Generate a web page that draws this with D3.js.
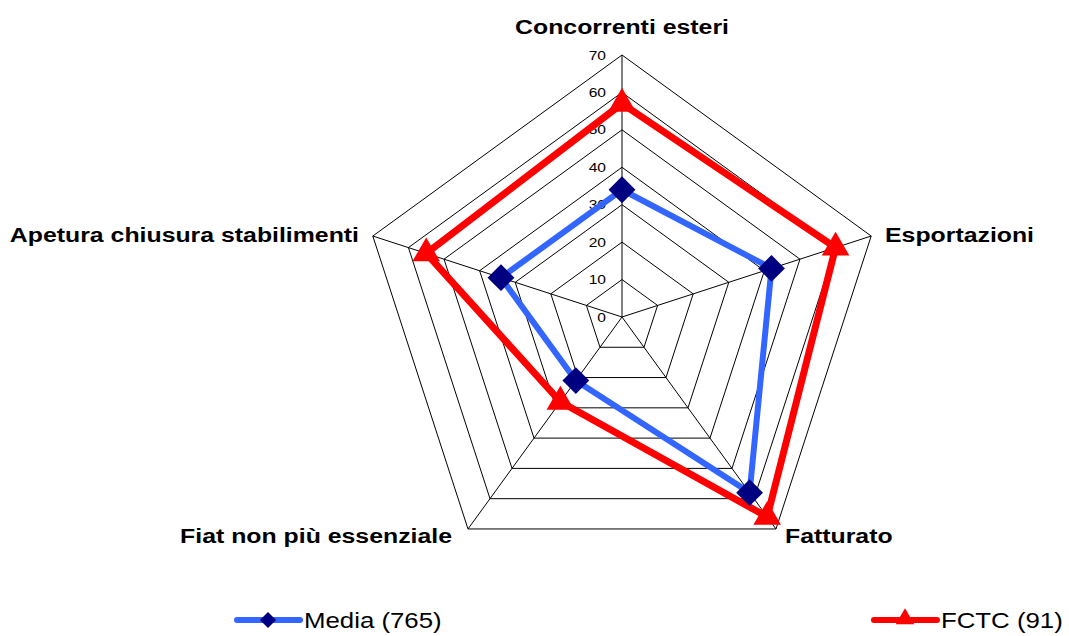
<!DOCTYPE html>
<html>
<head>
<meta charset="utf-8">
<script src="https://cdn.jsdelivr.net/npm/d3@7"></script>
<style>
  body { margin: 0; background: #fff; }
  svg { display: block; font-family: "Liberation Sans", Arial, sans-serif; }
</style>
</head>
<body>
<script>
// data
const categories = ['Concorrenti esteri', 'Esportazioni', 'Fatturato', 'Fiat non più essenziale', 'Apetura chiusura stabilimenti']
const media = [34, 42, 58, 21, 34]
const fctc = [57, 60, 66, 28, 55]
const ticks = [0, 10, 20, 30, 40, 50, 60, 70]
const seriesNames = ['Media (765)', 'FCTC (91)']

const width = 1069, height = 636
const cx = 622, cy = 317
const stretch = 'scale(1.2,1)'   // the original text is drawn a bit wide

const svg = d3.select('body').append('svg')
    .attr('width', width)
    .attr('height', height)

const r = d3.scaleLinear().domain([0, 70]).range([0, 262])
const angle = d3.scalePoint().domain(categories).range([0, 2 * Math.PI * 4 / 5])

function pt(cat, v) {
    const a = angle(cat)
    return [cx + r(v) * Math.sin(a), cy - r(v) * Math.cos(a)]
}

// ======== grid ========
const grid = svg.append('g')
grid.selectAll('polygon')
    .data(ticks.slice(1))
    .enter().append('polygon')
    .attr('points', d => categories.map(c => pt(c, d).join(',')).join(' '))
    .attr('fill', 'none')
    .attr('stroke', '#000')
    .attr('stroke-width', 1)

grid.selectAll('line')
    .data(categories)
    .enter().append('line')
    .attr('x1', cx).attr('y1', cy)
    .attr('x2', d => pt(d, 70)[0])
    .attr('y2', d => pt(d, 70)[1])
    .attr('stroke', '#000')
    .attr('stroke-width', 1)

// tick labels
svg.append('g').selectAll('text')
    .data(ticks)
    .enter().append('text')
    .attr('transform', d => 'translate(' + (cx - 16) + ',' + (cy - r(d) + 4.5) + ') ' + stretch)
    .attr('text-anchor', 'end')
    .attr('font-size', 13)
    .attr('fill', '#000')
    .text(d => d)

// ======== series ========
const line = d3.line().curve(d3.curveLinearClosed)

function drawLine(vals, color, w) {
    svg.append('path')
        .attr('d', line(categories.map((c, i) => pt(c, vals[i]))))
        .attr('fill', 'none')
        .attr('stroke', color)
        .attr('stroke-width', w)
        .attr('stroke-linejoin', 'miter')
}

drawLine(media, '#3366ff', 6)
drawLine(fctc, '#ff0000', 7)

const diamond = d3.symbol(d3.symbolSquare)
const triangle = d3.symbol(d3.symbolTriangle)

svg.append('g').selectAll('path')
    .data(categories)
    .enter().append('path')
    .attr('d', diamond.size(360)())
    .attr('transform', (d, i) => 'translate(' + pt(d, media[i]) + ') rotate(45)')
    .attr('fill', '#000080')

svg.append('g').selectAll('path')
    .data(categories)
    .enter().append('path')
    .attr('d', triangle.size(330)())
    .attr('transform', (d, i) => 'translate(' + pt(d, fctc[i]) + ')')
    .attr('fill', '#ff0000')

// ======== category labels ========
const labelPos = [
    { x: 622, y: 34, anchor: 'middle' },
    { x: 885, y: 242, anchor: 'start' },
    { x: 785, y: 543, anchor: 'start' },
    { x: 452, y: 543, anchor: 'end' },
    { x: 359, y: 242, anchor: 'end' }
]
svg.append('g').selectAll('text')
    .data(categories)
    .enter().append('text')
    .attr('transform', (d, i) => 'translate(' + labelPos[i].x + ',' + labelPos[i].y + ') ' + stretch)
    .attr('text-anchor', (d, i) => labelPos[i].anchor)
    .attr('font-size', 20.7)
    .attr('font-weight', 'bold')
    .text(d => d)

// ======== legend ========
const legend = svg.append('g')
const legendX = [237, 874]
const legendColors = ['#3366ff', '#ff0000']
seriesNames.forEach((name, i) => {
    const g = legend.append('g').attr('transform', 'translate(' + legendX[i] + ',620)')
    g.append('line')
        .attr('x1', 0).attr('x2', 63)
        .attr('y1', 0).attr('y2', 0)
        .attr('stroke', legendColors[i])
        .attr('stroke-width', 6)
        .attr('stroke-linecap', 'round')
    if (i === 0) {
        g.append('path')
            .attr('d', diamond.size(130)())
            .attr('transform', 'translate(31,0) rotate(45)')
            .attr('fill', '#000080')
    } else {
        g.append('path')
            .attr('d', triangle.size(150)())
            .attr('transform', 'translate(31,-1)')
            .attr('fill', '#ff0000')
    }
    g.append('text')
        .attr('transform', 'translate(67,8) ' + stretch)
        .attr('font-size', 21.5)
        .text(name)
})
</script>
</body>
</html>
